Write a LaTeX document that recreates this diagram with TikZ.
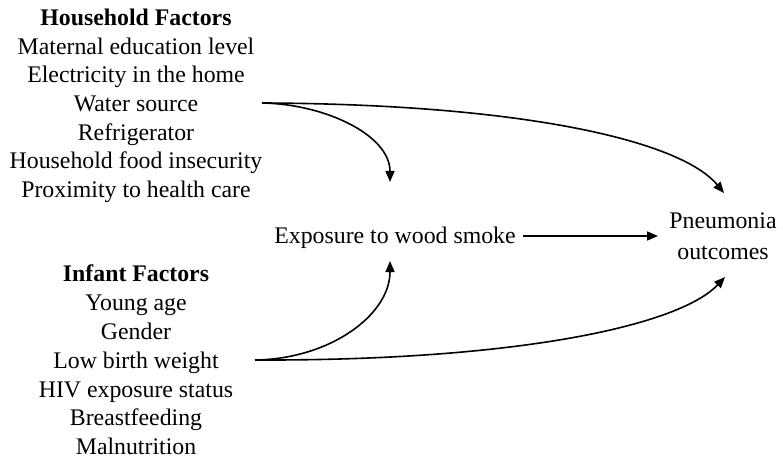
\documentclass[tikz,border=0pt]{standalone}
\usepackage{fontspec}
\setmainfont{Liberation Serif}
\usetikzlibrary{arrows.meta}
\begin{document}
\begin{tikzpicture}[x=1pt,y=-1pt,
  lbl/.style={inner sep=0pt,anchor=base,font=\fontsize{23.8}{29}\selectfont},
  hd/.style={lbl,font=\fontsize{23.8}{29}\selectfont\bfseries},
  arr/.style={line width=1.6pt,-{Triangle[length=11pt,width=9pt]}}]
\useasboundingbox (0,0) rectangle (783,462);
\node[hd]  (hh)  at (136,26)  {Household Factors};
\node[lbl] (h1)  at (136,55)  {Maternal education level};
\node[lbl] (h2)  at (136,83)  {Electricity in the home};
\node[lbl] (h3)  at (136,112) {Water source};
\node[lbl] (h4)  at (136,141) {Refrigerator};
\node[lbl] (h5)  at (136,169) {Household food insecurity};
\node[lbl] (h6)  at (136,198) {Proximity to health care};
\node[hd]  (ih)  at (136,281) {Infant Factors};
\node[lbl] (i1)  at (136,310) {Young age};
\node[lbl] (i2)  at (136,339) {Gender};
\node[lbl] (i3)  at (136,368) {Low birth weight};
\node[lbl] (i4)  at (136,397) {HIV exposure status};
\node[lbl] (i5)  at (136,425) {Breastfeeding};
\node[lbl] (i6)  at (136,454) {Malnutrition};
\node[lbl] (ex)  at (395,243) {Exposure to wood smoke};
\node[lbl] (pn1) at (723,229) {Pneumonia};
\node[lbl] (pn2) at (723,259) {outcomes};
\coordinate (hs) at (262,103);
\coordinate (is) at (255,360);
\coordinate (exT) at (390,182);
\coordinate (exB) at (390,261);
\coordinate (pnT) at (724,193);
\coordinate (pnB) at (725,277);
\coordinate (exE) at (523,236);
\coordinate (pnW) at (658,236);
\draw[arr] (hs) .. controls (325,104) and (390,135) .. (exT);
\draw[arr] (hs) .. controls (520,104) and (680,140) .. (pnT);
\draw[arr] (is) .. controls (330,359) and (390,315) .. (exB);
\draw[arr] (is) .. controls (520,361) and (680,325) .. (pnB);
\draw[arr] (exE) -- (pnW);
\end{tikzpicture}
\end{document}
